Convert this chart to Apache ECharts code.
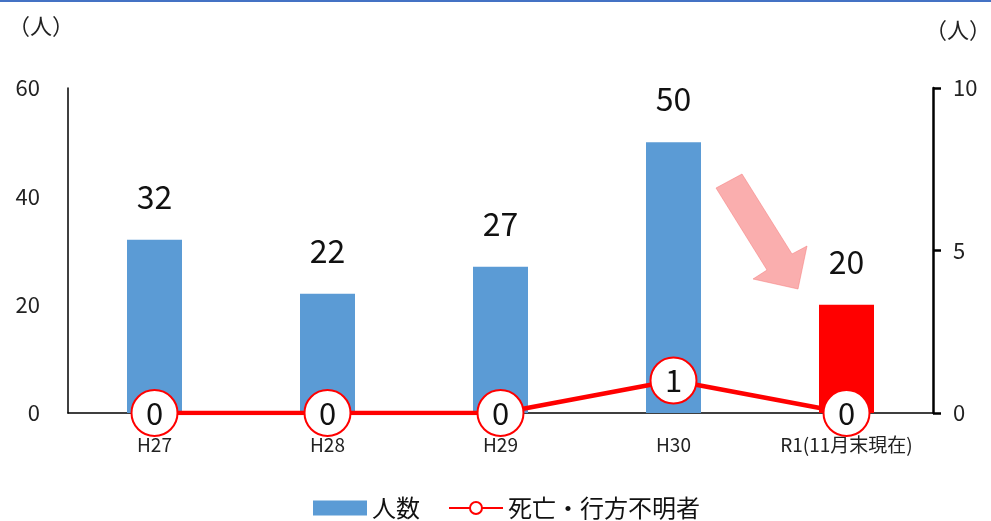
<!DOCTYPE html>
<html><head><meta charset="utf-8">
<script src="https://cdn.jsdelivr.net/npm/echarts@6/dist/echarts.min.js"></script>
<style>html,body{margin:0;padding:0;background:#fff}#c{width:991px;height:521px}</style>
</head><body><div id="c"></div>
<script>
const categories = ['H27','H28','H29','H30','R1(11月末現在)'];
const peopleValues = [32,22,27,50,20];
const deathValues = [0,0,0,1,0];
const leftTicks = [0,20,40,60];
const rightTicks = [0,5,10];

const FONT = '"Noto Sans CJK JP", "Noto Sans", sans-serif';
const chart = echarts.init(document.getElementById('c'));
chart.setOption({
  animation:false,
  textStyle:{fontFamily:FONT},
  grid:{left:68,right:58,top:88,bottom:108},
  legend:{
    bottom:-4,left:308,itemGap:28,
    textStyle:{fontSize:24,color:'#111',fontFamily:FONT},
    data:[
      {name:'人数',icon:'rect',itemStyle:{color:'#5b9bd5'}},
      {name:'死亡・行方不明者'}
    ],
    itemWidth:54,itemHeight:15
  },
  xAxis:{type:'category',data:categories,
    axisLine:{lineStyle:{color:'#000',width:1.5}},
    axisTick:{show:false},
    axisLabel:{color:'#222',fontSize:19,margin:22,fontFamily:FONT,interval:0}
  },
  yAxis:[
    {type:'value',min:leftTicks[0],max:leftTicks[leftTicks.length-1],interval:20,
     axisLine:{show:true,lineStyle:{color:'#000',width:1.5}},axisTick:{show:false},
     splitLine:{show:false},
     axisLabel:{color:'#222',fontSize:22,margin:28,fontFamily:FONT}},
    {type:'value',min:rightTicks[0],max:rightTicks[rightTicks.length-1],interval:5,position:'right',
     axisLine:{show:true,lineStyle:{color:'#000',width:2.5}},
     axisTick:{show:true,inside:false,length:8,lineStyle:{color:'#000',width:2.5}},
     splitLine:{show:false},
     axisLabel:{color:'#222',fontSize:22,margin:20,fontFamily:FONT}}
  ],
  series:[
    {name:'人数',type:'bar',barWidth:55,
     data:peopleValues.map((v,i)=>({value:v,itemStyle:{color:i===peopleValues.length-1?'#ff0000':'#5b9bd5'}})),
     itemStyle:{color:'#5b9bd5'},
     label:{show:true,position:'top',distance:27,fontSize:32,color:'#111',fontFamily:FONT}},
    {name:'死亡・行方不明者',type:'line',yAxisIndex:1,data:deathValues,
     symbol:'circle',symbolSize:46,
     lineStyle:{color:'#ff0000',width:4.5},
     itemStyle:{color:'#fff',borderColor:'#ff0000',borderWidth:2},
     label:{show:true,position:'inside',fontSize:31,color:'#111',fontFamily:FONT},
     z:5}
  ],
  graphic:[
    {type:'rect',left:0,top:0,shape:{width:991,height:2},style:{fill:'#4472c4'}},
    {type:'text',left:8,top:15,style:{text:'（人）',fontSize:22,fill:'#222',fontFamily:FONT}},
    {type:'text',right:0,top:19,style:{text:'（人）',fontSize:22,fill:'#222',fontFamily:FONT}},
    {type:'polygon',shape:{points:[[716,188],[742,174],[792,254],[807,246],[798,289],[753,279],[767,270]]},
     style:{fill:'rgba(246,120,120,0.6)',stroke:'rgba(246,120,120,0.5)',lineWidth:1}}
  ]
});
</script></body></html>
